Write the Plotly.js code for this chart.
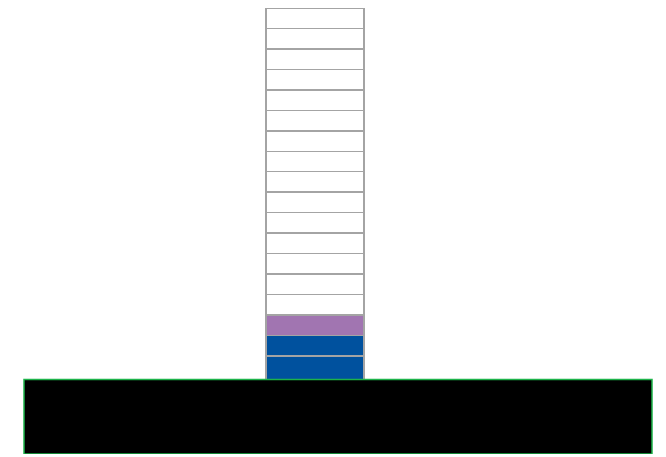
<!DOCTYPE html>
<html>
<head>
<meta charset="utf-8">
<script src="https://cdn.plot.ly/plotly-3.0.1.min.js"></script>
<style>html,body{margin:0;padding:0;background:#fff;}#chart{width:666px;height:457px;}</style>
</head>
<body>
<div id="chart"></div>
<script>
// Data: one column, stacked cells from bottom to top
var category = ['A'];
var cellValues = [1.15, 1, 1, 1, 1, 1, 1, 1, 1, 1, 1, 1, 1, 1, 1, 1, 1, 1];
var cellStatus = ['blue', 'blue', 'purple', 'empty', 'empty', 'empty', 'empty', 'empty',
                  'empty', 'empty', 'empty', 'empty', 'empty', 'empty', 'empty', 'empty', 'empty', 'empty'];
var baseDepth = [-3.64];

var colorMap = {blue: '#00519e', purple: '#a175b1', empty: '#ffffff'};

var traces = cellValues.map(function (v, i) {
  return {
    type: 'bar',
    x: category,
    y: [v],
    width: 0.156,
    marker: {color: colorMap[cellStatus[i]], line: {color: '#a4a4a4', width: 1.5}},
    hoverinfo: 'skip',
    showlegend: false
  };
});

var total = cellValues.reduce(function (a, b) { return a + b; }, 0);

var layout = {
  width: 666,
  height: 457,
  margin: {l: 24, r: 14, t: 8, b: 3, pad: 0},
  barmode: 'stack',
  paper_bgcolor: '#ffffff',
  plot_bgcolor: '#ffffff',
  showlegend: false,
  xaxis: {type: 'category', range: [-0.4634, 0.5366], showgrid: false, zeroline: false,
          showticklabels: false, showline: false, ticks: ''},
  yaxis: {range: [baseDepth[0], total], showgrid: false, zeroline: false,
          showticklabels: false, showline: false, ticks: ''},
  shapes: [{
    type: 'rect', xref: 'paper', yref: 'y', x0: 0, x1: 1, y0: baseDepth[0], y1: 0,
    fillcolor: '#000000', line: {color: '#1db34a', width: 1.5}, layer: 'above'
  }]
};

Plotly.newPlot('chart', traces, layout, {displayModeBar: false, staticPlot: true});
</script>
</body>
</html>
